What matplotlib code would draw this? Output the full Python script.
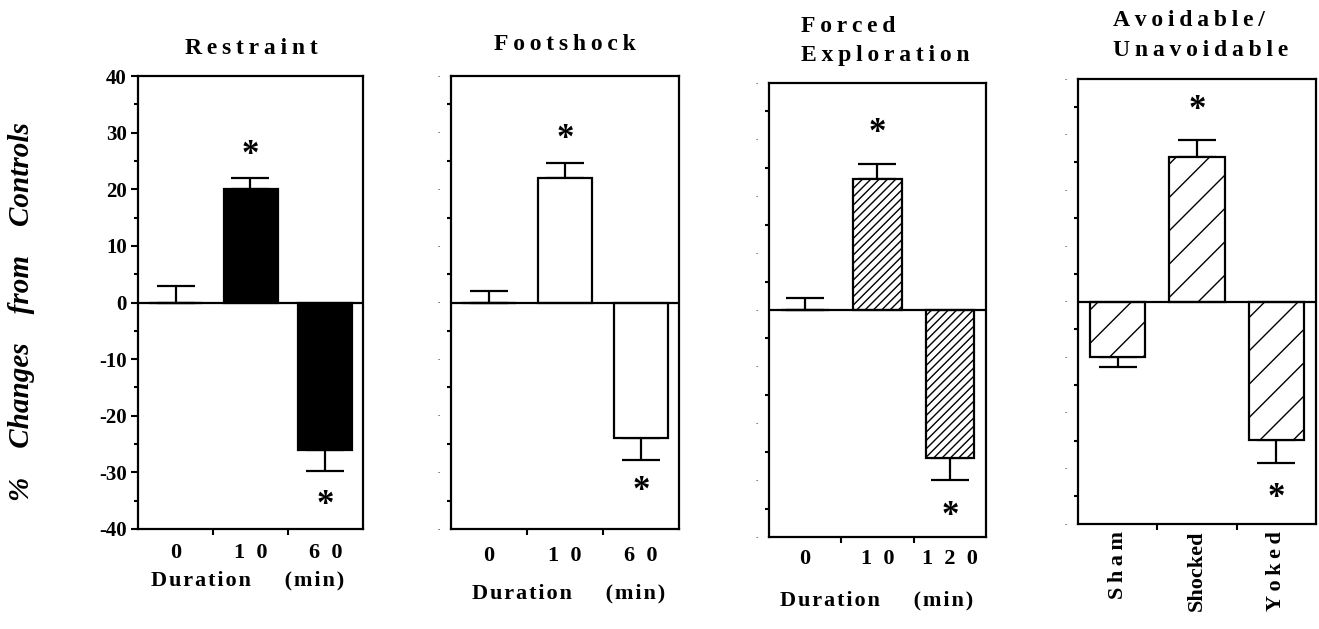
import matplotlib.pyplot as plt
import numpy as np

plt.rcParams['font.family'] = ['Liberation Serif', 'DejaVu Serif']
plt.rcParams['hatch.linewidth'] = 1.0

TS = '\u2009'  # thin space, used for the letter spacing of the original
HS = '\u200a'  # hair space


def spaced(s, sep=TS):
    return sep.join(s)


## data
restraint_labels = ['0', '1  0', '6  0']
restraint_means = [0.0, 20.0, -26.1]
restraint_err = [3.0, 2.0, 3.7]
restraint_stars = [None, 27.0, -34.9]

footshock_labels = ['0', '1  0', '6  0']
footshock_means = [0.0, 21.9, -23.9]
footshock_err = [2.1, 2.8, 3.9]
footshock_stars = [None, 29.7, -32.4]

forced_labels = ['0', '1  0', '1  2  0']
forced_means = [0.0, 23.0, -26.0]
forced_err = [2.1, 2.8, 3.9]
forced_stars = [None, 32.1, -35.5]

avoid_labels = ['Sham', 'Shocked', 'Yoked']
avoid_means = [-10.0, 25.9, -24.9]
avoid_err = [1.8, 3.1, 4.1]
avoid_stars = [None, 35.3, -34.4]

W, H = 1319, 629
fig = plt.figure(figsize=(W / 100, H / 100), dpi=100)

STAR_FS = 25


def px_axes(left, right, top, bottom):
    return fig.add_axes([left / W, 1 - bottom / H, (right - left) / W, (bottom - top) / H])


def draw_panel(ax, means, errs, stars, labels, color, hatch, width, show_y):
    x = np.arange(len(means))
    ax.bar(x, means, width=width, color=color, edgecolor='black', linewidth=1.6,
           hatch=hatch, zorder=2)
    lower = [e if m < 0 else 0 for m, e in zip(means, errs)]
    upper = [0 if m < 0 else e for m, e in zip(means, errs)]
    ax.errorbar(x, means, yerr=[lower, upper], fmt='none', ecolor='black',
                elinewidth=1.6, capsize=14, capthick=1.6, zorder=1)
    ax.axhline(0, color='black', lw=1.6, zorder=3)
    for xi, s in zip(x, stars):
        if s is not None:
            ax.annotate('*', (xi, s), xytext=(0, -0.40 * STAR_FS), textcoords='offset points',
                        ha='center', va='baseline', fontsize=STAR_FS, fontweight='bold')
    ax.set_xlim(-0.5, len(means) - 0.5)
    ax.set_ylim(-40, 40)
    for sp in ax.spines.values():
        sp.set_linewidth(1.6)
    ax.set_xticks(x)
    ax.set_xticks([0.5, 1.5], minor=True)
    ax.tick_params(axis='x', which='major', length=0)
    ax.tick_params(axis='x', which='minor', length=4, width=1.5, direction='out')
    ax.set_yticks(np.arange(-40, 41, 10))
    ax.set_yticks(np.arange(-35, 40, 10), minor=True)
    ax.tick_params(axis='y', which='minor', length=3, width=1.5, direction='out')
    if show_y:
        ax.set_yticklabels([str(v) for v in range(-40, 41, 10)],
                           fontsize=15, fontweight='bold')
        ax.tick_params(axis='y', which='major', length=5, width=1.5, pad=3)
    else:
        ax.set_yticklabels(['-'] * 9, fontsize=5)
        ax.tick_params(axis='y', which='major', length=0, pad=8)


# Restraint
ax1 = px_axes(138, 363, 76, 529)
draw_panel(ax1, restraint_means, restraint_err, restraint_stars, restraint_labels,
           'black', None, 0.72, True)
ax1.set_xticklabels(restraint_labels, fontsize=16, fontweight='bold')
ax1.tick_params(axis='x', which='major', pad=10)

# Footshock
ax2 = px_axes(451, 679, 76, 529)
draw_panel(ax2, footshock_means, footshock_err, footshock_stars, footshock_labels,
           'white', None, 0.71, False)
ax2.set_xticklabels(footshock_labels, fontsize=16, fontweight='bold')
ax2.tick_params(axis='x', which='major', pad=12)

# Forced exploration
ax3 = px_axes(769, 986, 83, 537)
draw_panel(ax3, forced_means, forced_err, forced_stars, forced_labels,
           'white', '////', 0.67, False)
ax3.set_xticklabels(forced_labels, fontsize=16, fontweight='bold')
ax3.tick_params(axis='x', which='major', pad=9)

# Avoidable / unavoidable
ax4 = px_axes(1078, 1316, 79, 524)
draw_panel(ax4, avoid_means, avoid_err, avoid_stars, avoid_labels,
           'white', '/', 0.70, False)
avoid_ticktext = [spaced(avoid_labels[0]), avoid_labels[1], spaced(avoid_labels[2])]
ax4.set_xticklabels(avoid_ticktext, fontsize=16, fontweight='bold', rotation=90, va='top')
ax4.tick_params(axis='x', which='major', pad=5)

# titles
title_kw = dict(fontsize=17, fontweight='bold')
fig.text(251 / W, 1 - 48 / H, spaced('Restraint'), ha='center', va='center', **title_kw)
fig.text(565 / W, 1 - 44 / H, spaced('Footshock'), ha='center', va='center', **title_kw)
fig.text(801 / W, 1 - 26 / H, spaced('Forced'), ha='left', va='center', **title_kw)
fig.text(801 / W, 1 - 56 / H, spaced('Exploration'), ha='left', va='center', **title_kw)
fig.text(1113 / W, 1 - 20 / H, spaced('Avoidable/'), ha='left', va='center', **title_kw)
fig.text(1113 / W, 1 - 50 / H, spaced('Unavoidable'), ha='left', va='center', **title_kw)

# x axis captions
dur = spaced('Duration', HS) + '      ' + spaced('(min)', HS)
fig.text(248 / W, 1 - 580 / H, dur, ha='center', va='center', fontsize=16, fontweight='bold')
fig.text(569 / W, 1 - 593 / H, dur, ha='center', va='center', fontsize=16, fontweight='bold')
fig.text(877 / W, 1 - 600 / H, dur, ha='center', va='center', fontsize=16, fontweight='bold')

# y axis caption
fig.text(22 / W, 1 - 312 / H, '%    Changes    from    Controls', rotation=90,
         ha='center', va='center', fontsize=21, fontweight='bold', fontstyle='italic')

fig.savefig('out.png', dpi=100)
